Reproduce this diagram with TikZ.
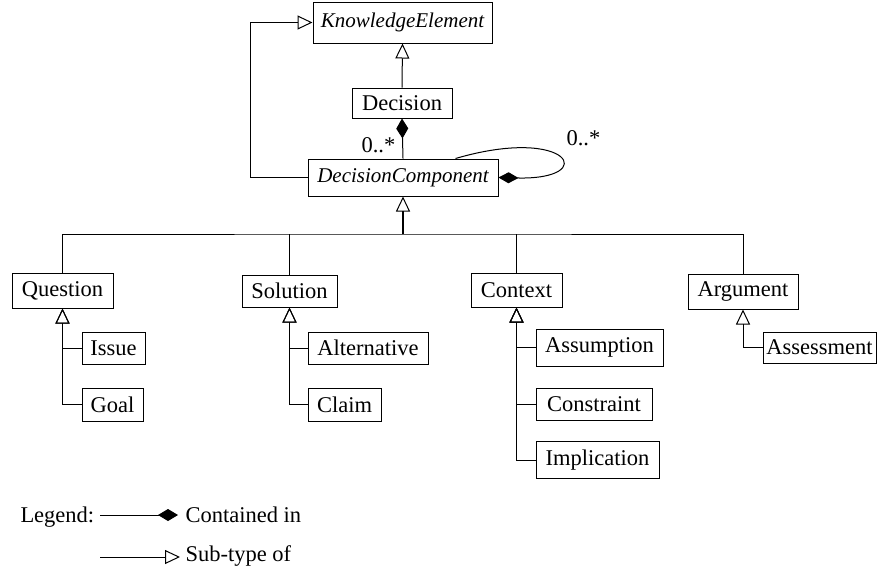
\documentclass[tikz,border=0pt]{standalone}
\usepackage{fontspec}
\setmainfont{Liberation Serif}
\usetikzlibrary{arrows.meta}
\begin{document}
\begin{tikzpicture}[x=1pt,y=-1pt,
  line width=1pt,
  every node/.style={font=\fontsize{22.5}{25}\selectfont},
  cls/.style={draw, line width=1pt, inner sep=0pt, anchor=center},
  abstractcls/.style={cls, font=\fontsize{21}{24}\selectfont\itshape},
  subtype/.style={-{Triangle[open,length=15pt,width=14pt,line width=1pt]}},
  contain/.style={-{Diamond[length=20pt,width=12pt]}},
  mult/.style={anchor=base west, inner sep=0pt}
]
\useasboundingbox (0,0) rectangle (877,566);

% classes
\node[abstractcls, minimum width=179pt, minimum height=41pt] (KE)  at (402.5,22.5) {KnowledgeElement};
\node[cls, minimum width=100pt, minimum height=30pt] (Dec) at (402,103) {Decision};
\node[abstractcls, minimum width=190pt, minimum height=37pt] (DC)  at (403,177.5) {DecisionComponent};

\node[cls, minimum width=101pt, minimum height=35pt] (Question) at (62.5,290.5) {Question};
\node[cls, minimum width=95pt,  minimum height=32pt] (Solution) at (289.5,291) {Solution};
\node[cls, minimum width=91pt,  minimum height=34pt] (Context)  at (516.5,290) {Context};
\node[cls, minimum width=110pt, minimum height=35pt] (Argument) at (743,291.5) {Argument};

\node[cls, minimum width=63pt,  minimum height=32pt] (Issue)       at (113.5,348) {Issue};
\node[cls, minimum width=61pt,  minimum height=33pt] (Goal)        at (112.5,404.5) {Goal};
\node[cls, minimum width=120pt, minimum height=32pt] (Alternative) at (368,348) {Alternative};
\node[cls, minimum width=73pt,  minimum height=33pt] (Claim)       at (344.5,404.5) {Claim};
\node[cls, minimum width=127pt, minimum height=37pt] (Assumption)  at (599.5,347.5) {Assumption};
\node[cls, minimum width=116pt, minimum height=32pt] (Constraint)  at (594,404) {Constraint};
\node[cls, minimum width=123pt, minimum height=37pt] (Implication) at (597.5,460) {Implication};
\node[cls, minimum width=113pt, minimum height=31pt] (Assessment)  at (819.5,347.5) {Assessment};

% generalisations at the top
\draw[subtype] (Dec.north) -- (KE.south);
\draw[subtype] (DC.west) -- ++(-57,0) |- (KE.west);

% composition: Decision contains components, components contain components
\draw[contain] (DC.north) -- (Dec.south);
\node[mult] (m1) at (361,152) {0..*};
\coordinate (loopend) at ([xshift=-43pt]DC.north east);
\draw[{Diamond[length=20pt,width=11pt]}-] (DC.east) .. controls (600,180) and (570,125) .. (loopend);
\node[mult] (m2) at (566,145) {0..*};

% sub-types of DecisionComponent
\coordinate (bus) at (403,234);
\draw[subtype, line width=1.6pt] (bus) -- (DC.south);
\draw (Question.north) |- (bus) -| (Argument.north);
\draw (Solution.north) -- (Solution.north |- bus);
\draw (Context.north) -- (Context.north |- bus);

% second-level sub-types
\draw[subtype] (Issue.west) -| (Question.south);
\draw[subtype] (Goal.west) -| (Question.south);
\draw[subtype] (Alternative.west) -| (Solution.south);
\draw[subtype] (Claim.west) -| (Solution.south);
\draw[subtype] (Assumption.west) -| (Context.south);
\draw[subtype] (Constraint.west) -| (Context.south);
\draw[subtype] (Implication.west) -| (Context.south);
\draw[subtype] (Assessment.west) -| (Argument.south);

% legend
\node[mult] (leg) at (20,522) {Legend:};
\coordinate (la) at (100,515);
\coordinate (lb) at (178,515);
\draw[contain] (la) -- (lb);
\node[mult] (legc) at (185,522) {Contained in};
\coordinate (lc) at (100,557);
\coordinate (ld) at (180,557);
\draw[subtype] (lc) -- (ld);
\node[mult] (legs) at (185,561) {Sub-type of};
\end{tikzpicture}
\end{document}
